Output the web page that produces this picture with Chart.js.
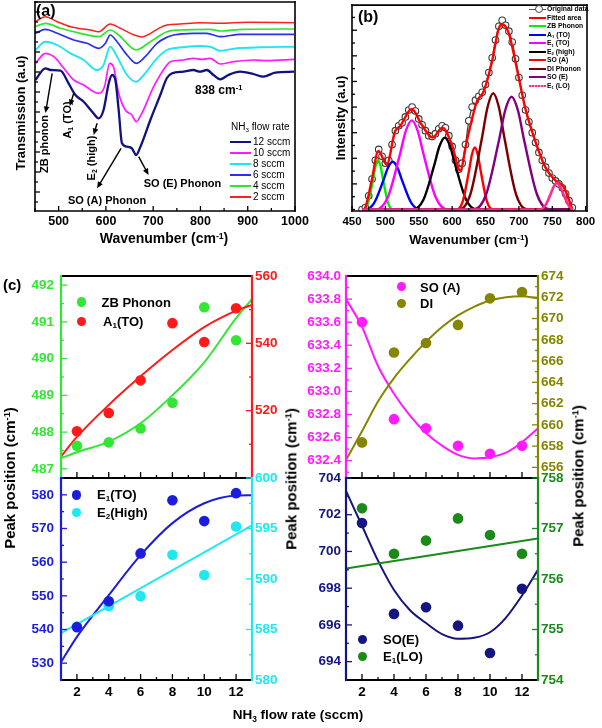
<!DOCTYPE html>
<html><head><meta charset="utf-8">
<script src="https://cdn.jsdelivr.net/npm/chart.js@4.4.1/dist/chart.umd.min.js"></script>
<style>
html,body{margin:0;padding:0;background:#fff;}
#wrap{position:relative;width:602px;height:728px;overflow:hidden;font-family:"Liberation Sans",Arial,Helvetica,sans-serif;background:#fff;}
canvas{position:absolute;left:0;top:0;}
.t{position:absolute;white-space:nowrap;font-weight:bold;line-height:1;}
.t sub{font-size:0.62em;vertical-align:baseline;position:relative;top:0.3em;}
.t sup{font-size:0.62em;vertical-align:baseline;position:relative;top:-0.5em;}
.sw{position:absolute;}
</style></head><body><div id="wrap">
<canvas id="ca" width="602" height="728"></canvas>
<canvas id="cb" width="602" height="728"></canvas>
<canvas id="ctl" width="602" height="728"></canvas>
<canvas id="cbl" width="602" height="728"></canvas>
<canvas id="ctr" width="602" height="728"></canvas>
<canvas id="cbr" width="602" height="728"></canvas>
</div>
<script>
// ================= DATA =================
// Panel (a): FTIR transmission spectra, [wavenumber, transmission (a.u.)]
const aSeriesNames = ['12 sccm','10 sccm','8 sccm','6 sccm','4 sccm','2 sccm'];
const aSpec12 = [[451,132],[472,143.7],[483,142],[504,141.3],[521,128.7],[535.5,117],[553,110.3],[571,100.3],[585,93.7],[595,102],[606,128.7],[613,137],[620,132],[627,102],[634,68.7],[644.7,65.3],[655,63.7],[664,57],[673,65.3],[694,92],[715,117],[729,134],[740,138.7],[764,140.3],[785,142],[799,140.3],[813.6,142],[827.5,137],[841.7,132.7],[859,137],[884,140.3],[912,138],[933,135.3],[958,139.3],[998,140.3]];
const aSpec10 = [[451,148.7],[472,158.7],[490,155.3],[511,143.7],[532,132],[553,127],[574,120.3],[585,118.7],[597,125.3],[608,148.7],[616,145.3],[627,118.7],[641,102],[655,97],[664,90.3],[676,98.7],[701,125.3],[729,147],[736,150.3],[764,152],[785,153.7],[803,152.7],[820.5,153.7],[841.7,148],[870,150.3],[912,152],[940,151.3],[998,152.7]];
const aSpec8 = [[451,162],[472,170.3],[497,167],[525,158.7],[553,152],[581,142],[595,147],[609,165.3],[623.6,155.3],[644.7,137],[664,130.3],[680,137],[708,153.7],[729,162],[743,163.7],[771,165.3],[799,166],[820.5,165.3],[841.7,161.3],[877,163.7],[926,164.7],[998,165.3]];
const aSpec6 = [[451,178.7],[472,182.7],[497,178.7],[532,172],[560,168.7],[585,163.7],[599,168.7],[609,177],[623.6,170.3],[644.7,157],[664,148.7],[683,155.3],[708,168.7],[729,174.7],[743,177],[785,178.7],[813.6,178.7],[841.7,175.3],[884,177.7],[998,177.7]];
const aSpec4 = [[451,185.3],[472,188.7],[504,183.7],[546,178.7],[585,175.3],[609,182],[627,177],[664,162],[694,170.3],[729,180.3],[757,182],[820.5,182.7],[841.7,181],[891,182.7],[998,183]];
const aSpec2 = [[451,190.3],[472,195.3],[497,190.3],[525,185.3],[567,182],[585,180.3],[609,188],[630.5,183.7],[660,177],[676,175],[690,177.5],[708,182.7],[729,187],[757,188],[799,189.3],[841.7,188.7],[898,189.7],[998,189.3]];
const aXTicks = [500,600,700,800,900,1000];

// Panel (b): deconvoluted spectrum, [wavenumber, intensity (a.u.)]
const bOrigWn = [465,470,475,480,485,490,495,500,505,510,515,520,525,530,535,540,545,550,555,560,565,570,575,580,585,590,595,600,605,610,615,620,625,630,635,640,645,650,655,660,665,670,675,680,685,690,695,700,705,710,715,720,725,730,735,740,745,750,755,760,765,770,775,780];
const bOrigI = [0,2,14,31,50,61,54,47,50,66,80,85,88,94,101,104,100,92,86,80,75,74,77,82,85,83,75,64,50,41,47,66,90,104,111,115,119,127,139,154,172,186,192,187,181,170,153,134,116,101,89,78,68,58,50,43,37,32,29,26,22,16,9,2];
const bFitted = [[466,0],[469.5,1.5],[479.5,29.5],[489.5,59.5],[502,45.5],[514.5,79.5],[522,84.5],[539.5,102],[554.5,86],[570.5,73],[585.5,83],[599.5,66],[612,39.5],[622,69.5],[637,109.5],[647,119.5],[659.5,149.5],[669.5,183],[674.5,188],[684.5,179.5],[697,143],[709.5,103],[724.5,69.5],[739.5,43],[754.5,29.5],[767,23],[778,4],[780,0]];
const bZB = [[465,0],[466.5,0],[474,6.8],[481.5,30.5],[485.2,44],[489,50],[492.8,44],[496.5,30.5],[504,6.8],[511.5,0],[780,0]];
const bA1TO = [[465,0],[469,0],[483,6.5],[497,29.6],[504,42.7],[511,48.5],[518,42.7],[525,29.6],[539,6.5],[553,0],[780,0]];
const bE1TO = [[465,0],[485.5,0],[503.5,12.2],[521.5,55.2],[530.5,79.6],[539.5,90.5],[548.5,79.6],[557.5,55.2],[575.5,12.2],[593.5,0],[780,0]];
const bE2High = [[465,0],[541,0],[557,9.9],[573,44.5],[581,64.2],[589,73],[597,64.2],[605,44.5],[621,9.9],[637,0],[780,0]];
const bSOA = [[465,0],[607,0],[616,8.5],[625,38.4],[629.5,55.4],[634,63],[638.5,55.4],[643,38.4],[652,8.5],[661,0],[780,0]];
const bDI = [[465,0],[610.5,0],[627.5,15.9],[644.5,72],[653,103.8],[661.5,118],[670,103.8],[678.5,72],[695.5,15.9],[712.5,0],[780,0]];
const bSOE = [[465,0],[632,0],[651,15.5],[670,69.8],[679.5,100.8],[689,114.5],[698.5,100.8],[708,69.8],[727,15.5],[746,0],[780,0]];
const bE1LO = [[465,0],[730,0],[739,3.6],[748,16.5],[752.5,23.8],[757,27],[761.5,23.8],[766,16.5],[775,3.6],[780,0]];
const bXTicks = [450,500,550,600,650,700,750,800];

// Panel (c): peak positions vs NH3 flow rate
const flow = [2,4,6,8,10,12];
const zbPhonon = [487.63,487.72,488.1,488.8,491.4,490.5];
const a1TO = [513.9,519.3,529.0,546.0,540.4,550.4];
const e1TO = [540.7,548.4,562.6,578.4,572.2,580.5];
const e2High = [585.3,587.3,588.3,592.4,590.4,595.2];
const soA = [633.6,632.76,632.68,632.53,632.46,632.53];
const diPh = [658.35,666.8,667.7,669.4,671.9,672.5];
const soE = [701.55,696.6,696.96,695.96,694.47,697.97];
const e1LO = [757.4,756.5,756.76,757.2,756.87,756.5];
// fitted trend curves, [flow, position]
const zbFit = [[1,487.29],[2,487.45],[4,487.74],[6,488.24],[8,489.0],[10,489.9],[12,491.1],[13,491.62]];
const a1Fit = [[1,506.4],[2,512.2],[4,521.7],[6,530.2],[8,538],[10,544.8],[12,549.7],[13,551.4]];
const e1Fit = [[1,530.3],[2,537.8],[4,550.2],[6,562.1],[8,571.6],[10,577.5],[12,579.8],[13,579.9]];
const e2Fit = [[1,584.65],[13,595.3]];
const soAFit = [[1,633.8],[2,633.56],[3,633.22],[4,632.98],[5,632.79],[6,632.64],[7,632.53],[8,632.45],[9,632.42],[10,632.43],[11,632.47],[12,632.56],[13,632.68]];
const diFit = [[1,656.7],[2,659.4],[3,662.2],[4,664.4],[5,666.2],[6,667.8],[7,669.2],[8,670.3],[9,671.1],[10,671.7],[11,672.0],[12,672.1],[13,671.9]];
const soEFit = [[1,703.3],[2,701.4],[3,699.5],[4,697.9],[5,696.8],[6,696.1],[7,695.5],[8,695.25],[9,695.3],[10,695.6],[11,696.4],[12,697.6],[13,699.0]];
const e1LOFit = [[1,756.21],[13,756.8]];
const cXTicks = [2,4,6,8,10,12];
const tlLeftTicks = [487,488,489,490,491,492];
const tlRightTicks = [500,520,540,560];
const tlRightLabels = ['','520','540','560'];
const blLeftTicks = [530,540,550,560,570,580];
const blRightTicks = [580,585,590,595,600];
const trLeftTicks = [632.4,632.6,632.8,633.0,633.2,633.4,633.6,633.8,634.0];
const trRightTicks = [656,658,660,662,664,666,668,670,672,674];
const brLeftTicks = [694,696,698,700,702,704];
const brRightTicks = [754,755,756,757,758];

// annotation arrows of panel (a) in data units [wn1, T1, wn2, T2]
const aArrows = [[486.3,138.7,472.2,99],[532,118.7,523.5,106],[581.3,88.7,574.2,77],[632,63.7,581.3,23.7],[669.2,55.3,690.3,37]];

// ================= HELPERS =================
const FF = '"Liberation Sans", Arial, Helvetica, sans-serif';
const wrap = document.getElementById('wrap');
const xy = p => p.map(([x,y]) => ({x, y}));
const zip = (xs, ys) => xs.map((x,i) => ({x, y: ys[i]}));
function minors(min, max, step, majors) {
  const out = [];
  for (let v = Math.ceil(min/step - 1e-9)*step; v <= max + 1e-9; v += step) {
    if (!majors.some(m => Math.abs(m - v) < step*0.01)) out.push(v);
  }
  return out;
}
function lineDs(data, color, w, yid, order, extra) {
  return Object.assign({type:'line', data, borderColor:color, borderWidth:w, pointRadius:0, fill:false,
    cubicInterpolationMode:'monotone', yAxisID: yid || 'y', order: order || 0}, extra || {});
}
function ptsDs(data, color, r, yid) {
  return {type:'scatter', data, backgroundColor:color, borderColor:color, pointRadius:r, pointBorderWidth:0, yAxisID: yid || 'y', order: -1};
}

const axesPlugin = {
  id: 'axesPlugin',
  afterDatasetsDraw(chart, args, o) {
    const ctx = chart.ctx, a = chart.chartArea;
    ctx.save();
    ctx.lineCap = 'butt';
    (o.axes || []).forEach(ax => {
      const sc = chart.scales[ax.scale];
      ctx.strokeStyle = ax.color; ctx.lineWidth = ax.tickWidth || 1.3;
      const tick = (v, len) => {
        const p = sc.getPixelForValue(v);
        ctx.beginPath();
        if (ax.side === 'left') { ctx.moveTo(a.left, p); ctx.lineTo(a.left + len, p); }
        else if (ax.side === 'right') { ctx.moveTo(a.right, p); ctx.lineTo(a.right - len, p); }
        else { ctx.moveTo(p, a.bottom); ctx.lineTo(p, a.bottom - len); }
        ctx.stroke();
      };
      (ax.minors || []).forEach(v => tick(v, ax.minLen || 3));
      ax.majors.forEach(v => tick(v, ax.len || 6));
      if (ax.labels) {
        ctx.fillStyle = ax.labelColor || ax.color; ctx.font = ax.font; ctx.textBaseline = 'middle';
        ax.majors.forEach((v, i) => {
          const t = ax.labels[i]; if (!t) return;
          const p = sc.getPixelForValue(v);
          if (ax.side === 'left') { ctx.textAlign = 'right'; ctx.fillText(t, a.left - ax.off, p); }
          else if (ax.side === 'right') { ctx.textAlign = 'left'; ctx.fillText(t, a.right + ax.off, p); }
          else { ctx.textAlign = 'center'; ctx.fillText(t, p, a.bottom + ax.off); }
        });
      }
    });
    (o.frame || []).forEach(f => {
      ctx.strokeStyle = f.color; ctx.lineWidth = f.lw; ctx.lineCap = 'square';
      ctx.beginPath();
      const s = f.side;
      if (s === 'left') { ctx.moveTo(a.left, a.top); ctx.lineTo(a.left, a.bottom); }
      if (s === 'right') { ctx.moveTo(a.right, a.top); ctx.lineTo(a.right, a.bottom); }
      if (s === 'top') { ctx.moveTo(a.left, a.top); ctx.lineTo(a.right, a.top); }
      if (s === 'bottom') { ctx.moveTo(a.left, a.bottom); ctx.lineTo(a.right, a.bottom); }
      ctx.stroke();
    });
    (o.arrows || []).forEach(ar => {
      const xs = chart.scales.x, ys = chart.scales.y;
      const x1 = xs.getPixelForValue(ar[0]), y1 = ys.getPixelForValue(ar[1]);
      const x2 = xs.getPixelForValue(ar[2]), y2 = ys.getPixelForValue(ar[3]);
      const ang = Math.atan2(y2 - y1, x2 - x1), hl = 6.5, hw = 2.8;
      ctx.strokeStyle = '#000'; ctx.fillStyle = '#000'; ctx.lineWidth = 1.4; ctx.lineCap = 'butt';
      ctx.beginPath(); ctx.moveTo(x1, y1);
      ctx.lineTo(x2 - hl*0.8*Math.cos(ang), y2 - hl*0.8*Math.sin(ang)); ctx.stroke();
      ctx.beginPath(); ctx.moveTo(x2, y2);
      ctx.lineTo(x2 - hl*Math.cos(ang) + hw*Math.sin(ang), y2 - hl*Math.sin(ang) - hw*Math.cos(ang));
      ctx.lineTo(x2 - hl*Math.cos(ang) - hw*Math.sin(ang), y2 - hl*Math.sin(ang) + hw*Math.cos(ang));
      ctx.closePath(); ctx.fill();
    });
    ctx.restore();
  }
};

function makeChart(id, pad, scales, datasets, axesOpt) {
  Object.values(scales).forEach(s => { s.type = 'linear'; s.display = false; });
  return new Chart(document.getElementById(id), {
    type: 'scatter',
    data: { datasets },
    options: {
      responsive: false, animation: false, events: [], devicePixelRatio: 1,
      layout: { padding: pad },
      plugins: { legend: {display:false}, tooltip: {enabled:false}, axesPlugin: axesOpt },
      scales
    },
    plugins: [axesPlugin]
  });
}

function txt(html, x, y, o) {
  o = o || {};
  const d = document.createElement('div'); d.className = 't'; d.innerHTML = html;
  d.style.left = x + 'px'; d.style.top = y + 'px';
  d.style.fontSize = (o.size || 12) + 'px';
  d.style.fontWeight = o.weight || 'bold';
  d.style.color = o.color || '#000';
  const tx = o.align === 'left' ? '0' : (o.align === 'right' ? '-100%' : '-50%');
  d.style.transform = 'translate(' + tx + ',-50%)' + (o.rot ? ' rotate(' + o.rot + 'deg)' : '');
  wrap.appendChild(d);
}
function sw(x, y, w, h, bg, extra) {
  const d = document.createElement('div'); d.className = 'sw';
  d.style.left = x + 'px'; d.style.top = (y - h/2) + 'px'; d.style.width = w + 'px'; d.style.height = h + 'px';
  d.style.background = bg;
  if (extra) Object.assign(d.style, extra);
  wrap.appendChild(d);
}
function dot(x, y, r, c) { sw(x - r, y, 2*r, 2*r, c, {borderRadius: '50%'}); }

const tf = s => 'bold ' + s + 'px ' + FF;

// ================= PANEL (a) =================
const aColors = ['#12127e','#ff1aff','#1de6ef','#2d2df0','#2ee62e','#ff2020'];
const aWidths = [2.3,1.7,1.9,1.7,1.7,1.5];
const aSpecs = [aSpec12, aSpec10, aSpec8, aSpec6, aSpec4, aSpec2];
makeChart('ca', {left:35, top:2, right:307, bottom:517},
  {x:{min:450, max:1000}, y:{min:1, max:210}},
  aSpecs.map((s,i) => lineDs(xy(s), aColors[i], aWidths[i], 'y', i)),
  { axes: [
      {scale:'x', side:'bottom', color:'#000', majors:aXTicks, minors:minors(450,1000,50,aXTicks), len:5, minLen:3,
       labels:aXTicks.map(String), font:tf(12.5), off:11},
      {scale:'y', side:'left', color:'#000', majors:[20,40,60,80,100,120,140,160,180,200], minors:minors(1,210,10,[20,40,60,80,100,120,140,160,180,200]), len:5, minLen:3}
    ],
    frame: [{side:'left',color:'#000',lw:1.6},{side:'right',color:'#000',lw:1.6},{side:'top',color:'#000',lw:1.6},{side:'bottom',color:'#000',lw:1.6}],
    arrows: aArrows
  });

// ================= PANEL (b) =================
const bComp = [
  [bZB,'#00ee00'],[bA1TO,'#0000ff'],[bE1TO,'#ff00ff'],[bE2High,'#000000'],
  [bSOA,'#ff0000'],[bDI,'#7a0000'],[bSOE,'#800080']
];
const bDatasets = [
  lineDs(zip(bOrigWn, bOrigI), '#444', 1.3, 'y', 30, {pointRadius:3.3, pointBorderColor:'#3a3a3a', pointBackgroundColor:'#fff', pointBorderWidth:1.1, cubicInterpolationMode:'default', tension:0.3})
];
bComp.forEach((c,i) => bDatasets.push(lineDs(xy(c[0]), c[1], 2.4, 'y', 20 - i)));
bDatasets.push(lineDs(xy(bFitted), '#ff0000', 2.4, 'y', 2));
bDatasets.push(lineDs(xy(bE1LO), '#ff2a8a', 2.6, 'y', 1));
makeChart('cb', {left:352, top:2, right:15, bottom:517},
  {x:{min:450, max:802}, y:{min:-1.5, max:207.5}},
  bDatasets,
  { axes: [
      {scale:'x', side:'bottom', color:'#000', majors:bXTicks, minors:minors(450,802,25,bXTicks), len:5, minLen:3,
       labels:bXTicks.map(String), font:tf(11.5), off:11},
      {scale:'y', side:'left', color:'#000', majors:[26,52,78,104,130,156,182], minors:minors(-1.5,207.5,13,[26,52,78,104,130,156,182]), len:5, minLen:3}
    ],
    frame: [{side:'left',color:'#000',lw:1.6},{side:'right',color:'#000',lw:1.6},{side:'top',color:'#000',lw:1.6},{side:'bottom',color:'#000',lw:1.6}]
  });

// ================= PANEL (c) =================
const cGreen='#33e633', cRed='#ff1a1a', cBlue='#1c1cdc', cCyan='#1ee8f0', cMag='#ff1aff', cOlive='#858500', cNavy='#15157f', cDGreen='#1a8a1a';
const cFont = tf(13.5);
const xMin = minors(1,13,1,cXTicks);

makeChart('ctl', {left:61, top:276, right:350, bottom:250},
  {x:{min:1, max:13}, y:{min:486.75, max:492.25}, y2:{min:500, max:560, position:'right'}},
  [ ptsDs(zip(flow, zbPhonon), cGreen, 5.3, 'y'), ptsDs(zip(flow, a1TO), cRed, 5.3, 'y2'),
    lineDs(xy(zbFit), cGreen, 2, 'y', 2), lineDs(xy(a1Fit), cRed, 2, 'y2', 1) ],
  { axes: [
      {scale:'x', side:'bottom', color:'#000', majors:cXTicks, minors:xMin, len:6, minLen:3},
      {scale:'y', side:'left', color:cGreen, majors:tlLeftTicks, minors:minors(486.75,492.25,0.5,tlLeftTicks), len:6, minLen:3, labels:tlLeftTicks.map(String), font:cFont, off:7},
      {scale:'y2', side:'right', color:cRed, majors:tlRightTicks, minors:minors(500,560,10,tlRightTicks), len:6, minLen:3, labels:tlRightLabels, font:cFont, off:3}
    ],
    frame: [{side:'top',color:'#000',lw:2},{side:'bottom',color:'#000',lw:2},{side:'left',color:cGreen,lw:2.2},{side:'right',color:cRed,lw:2.2}]
  });

makeChart('cbl', {left:61, top:478, right:350, bottom:48},
  {x:{min:1, max:13}, y:{min:525, max:585}, y2:{min:580, max:600, position:'right'}},
  [ ptsDs(zip(flow, e1TO), cBlue, 5.3, 'y'), ptsDs(zip(flow, e2High), cCyan, 5.3, 'y2'),
    lineDs(xy(e1Fit), cBlue, 2, 'y', 2), lineDs(xy(e2Fit), cCyan, 2, 'y2', 1) ],
  { axes: [
      {scale:'x', side:'bottom', color:'#000', majors:cXTicks, minors:xMin, len:6, minLen:3, labels:cXTicks.map(String), font:cFont, off:12},
      {scale:'y', side:'left', color:cBlue, majors:blLeftTicks, minors:minors(525,585,5,blLeftTicks), len:6, minLen:3, labels:blLeftTicks.map(String), font:cFont, off:7},
      {scale:'y2', side:'right', color:cCyan, majors:blRightTicks, minors:minors(580,600,2.5,blRightTicks), len:6, minLen:3, labels:blRightTicks.map(String), font:cFont, off:3}
    ],
    frame: [{side:'bottom',color:'#000',lw:2},{side:'left',color:cBlue,lw:2.2},{side:'right',color:cCyan,lw:2.2}]
  });

makeChart('ctr', {left:346, top:276, right:64, bottom:250},
  {x:{min:1, max:13}, y:{min:632.25, max:634.0}, y2:{min:655, max:674, position:'right'}},
  [ ptsDs(zip(flow, soA), cMag, 5.3, 'y'), ptsDs(zip(flow, diPh), cOlive, 5.3, 'y2'),
    lineDs(xy(soAFit), cMag, 2, 'y', 2), lineDs(xy(diFit), cOlive, 2, 'y2', 1) ],
  { axes: [
      {scale:'x', side:'bottom', color:'#000', majors:cXTicks, minors:xMin, len:6, minLen:3},
      {scale:'y', side:'left', color:cMag, majors:trLeftTicks, minors:minors(632.25,634.0,0.1,trLeftTicks), len:6, minLen:3, labels:trLeftTicks.map(v=>v.toFixed(1)), font:cFont, off:5},
      {scale:'y2', side:'right', color:cOlive, majors:trRightTicks, minors:minors(655,674,1,trRightTicks), len:6, minLen:3, labels:trRightTicks.map(String), font:cFont, off:3}
    ],
    frame: [{side:'top',color:'#000',lw:2},{side:'bottom',color:'#000',lw:2},{side:'left',color:cMag,lw:2.2},{side:'right',color:cOlive,lw:2.2}]
  });

makeChart('cbr', {left:346, top:478, right:64, bottom:48},
  {x:{min:1, max:13}, y:{min:693, max:704}, y2:{min:754, max:758, position:'right'}},
  [ ptsDs(zip(flow, soE), cNavy, 5.3, 'y'), ptsDs(zip(flow, e1LO), cDGreen, 5.3, 'y2'),
    lineDs(xy(soEFit), cNavy, 2, 'y', 2), lineDs(xy(e1LOFit), cDGreen, 2, 'y2', 1) ],
  { axes: [
      {scale:'x', side:'bottom', color:'#000', majors:cXTicks, minors:xMin, len:6, minLen:3, labels:cXTicks.map(String), font:cFont, off:12},
      {scale:'y', side:'left', color:cNavy, majors:brLeftTicks, minors:minors(693,704,1,brLeftTicks), len:6, minLen:3, labels:brLeftTicks.map(String), font:cFont, off:5},
      {scale:'y2', side:'right', color:cDGreen, majors:brRightTicks, minors:minors(754,758,0.5,brRightTicks), len:6, minLen:3, labels:brRightTicks.map(String), font:cFont, off:3}
    ],
    frame: [{side:'bottom',color:'#000',lw:2},{side:'left',color:cNavy,lw:2.2},{side:'right',color:cDGreen,lw:2.2}]
  });

// ================= TEXT / LEGENDS =================
// panel (a)
txt('(a)', 36, 11, {size:16, align:'left'});
txt('Transmission (a.u)', 20, 113, {size:13, rot:-90});
txt('Wavenumber (cm<sup>-1</sup>)', 164, 238, {size:14});
txt('838 cm<sup>-1</sup>', 195, 90, {size:12, align:'left'});
txt('ZB phonon', 43.5, 143.5, {size:11, rot:-90});
txt('A<sub>1</sub> (TO)', 67, 120, {size:11, rot:-90});
txt('E<sub>2</sub> (high)', 90.5, 157.5, {size:11, rot:-90});
txt('SO (A) Phonon', 107, 199.5, {size:11});
txt('SO (E) Phonon', 182.5, 183, {size:11});
txt('NH<sub>3</sub> flow rate', 231, 127, {size:10, weight:'normal', align:'left'});
aSeriesNames.forEach((n,i) => {
  const y = 141.5 + i*11;
  sw(230, y, 21, 2, aColors[i]);
  txt(n, 253, y, {size:10, weight:'normal', align:'left'});
});

// panel (b)
txt('(b)', 358, 17, {size:16, align:'left'});
txt('Intensity (a.u)', 340, 118, {size:13, rot:-90});
txt('Wavenumber (cm<sup>-1</sup>)', 469, 240, {size:13});
const bLegend = [
  ['Original data', null], ['Fitted area','#ff0000'], ['ZB Phonon','#00ee00'], ['A<sub>1</sub> (TO)','#0000ff'],
  ['E<sub>1</sub> (TO)','#ff00ff'], ['E<sub>2</sub> (high)','#000000'], ['SO (A)','#ff0000'], ['DI Phonon','#7a0000'],
  ['SO (E)','#800080'], ['E<sub>1</sub> (LO)','#ff2a8a']
];
bLegend.forEach((e,i) => {
  const y = 9.3 + i*8.5;
  if (e[1] === null) {
    sw(529, y, 17, 1.2, '#555');
    sw(534.5, y, 6, 6, '#fff', {border:'1px solid #444', borderRadius:'50%', top:(y-4)+'px'});
  } else if (i === 9) {
    sw(529, y, 17, 2.4, 'repeating-linear-gradient(90deg,#ff2a8a 0 2px,#ffb0d0 2px 3px)');
  } else {
    sw(529, y, 17, 2.4, e[1]);
  }
  txt(e[0], 547, y, {size:6.8, align:'left'});
});

// panel (c)
txt('(c)', 3, 284, {size:15, align:'left'});
txt('Peak position (cm<sup>-1</sup>)', 10, 478, {size:15, rot:-90});
txt('Peak position (cm<sup>-1</sup>)', 291, 479, {size:15, rot:-90});
txt('Peak position (cm<sup>-1</sup>)', 578, 476, {size:15, rot:-90});
txt('NH<sub>3</sub> flow rate (sccm)', 298, 715, {size:13.5});
dot(81.7, 302, 4.7, cGreen); txt('ZB Phonon', 101.5, 302, {size:13, align:'left'});
dot(81.7, 321.7, 4.7, cRed); txt('A<sub>1</sub>(TO)', 103, 321.5, {size:13, align:'left'});
dot(76.7, 495, 4.7, cBlue); txt('E<sub>1</sub>(TO)', 97, 494.5, {size:13, align:'left'});
dot(76.7, 512.7, 4.7, cCyan); txt('E<sub>2</sub>(High)', 97, 512.5, {size:13, align:'left'});
dot(401.7, 286.7, 4.7, cMag); txt('SO (A)', 420, 286.5, {size:13, align:'left'});
dot(401.7, 303.3, 4.7, cOlive); txt('DI', 420, 303.3, {size:13, align:'left'});
dot(362.7, 639.3, 4.7, cNavy); txt('SO(E)', 383, 639.3, {size:13, align:'left'});
dot(362.7, 656.7, 4.7, cDGreen); txt('E<sub>1</sub>(LO)', 383, 656.5, {size:13, align:'left'});
</script>
</body></html>
